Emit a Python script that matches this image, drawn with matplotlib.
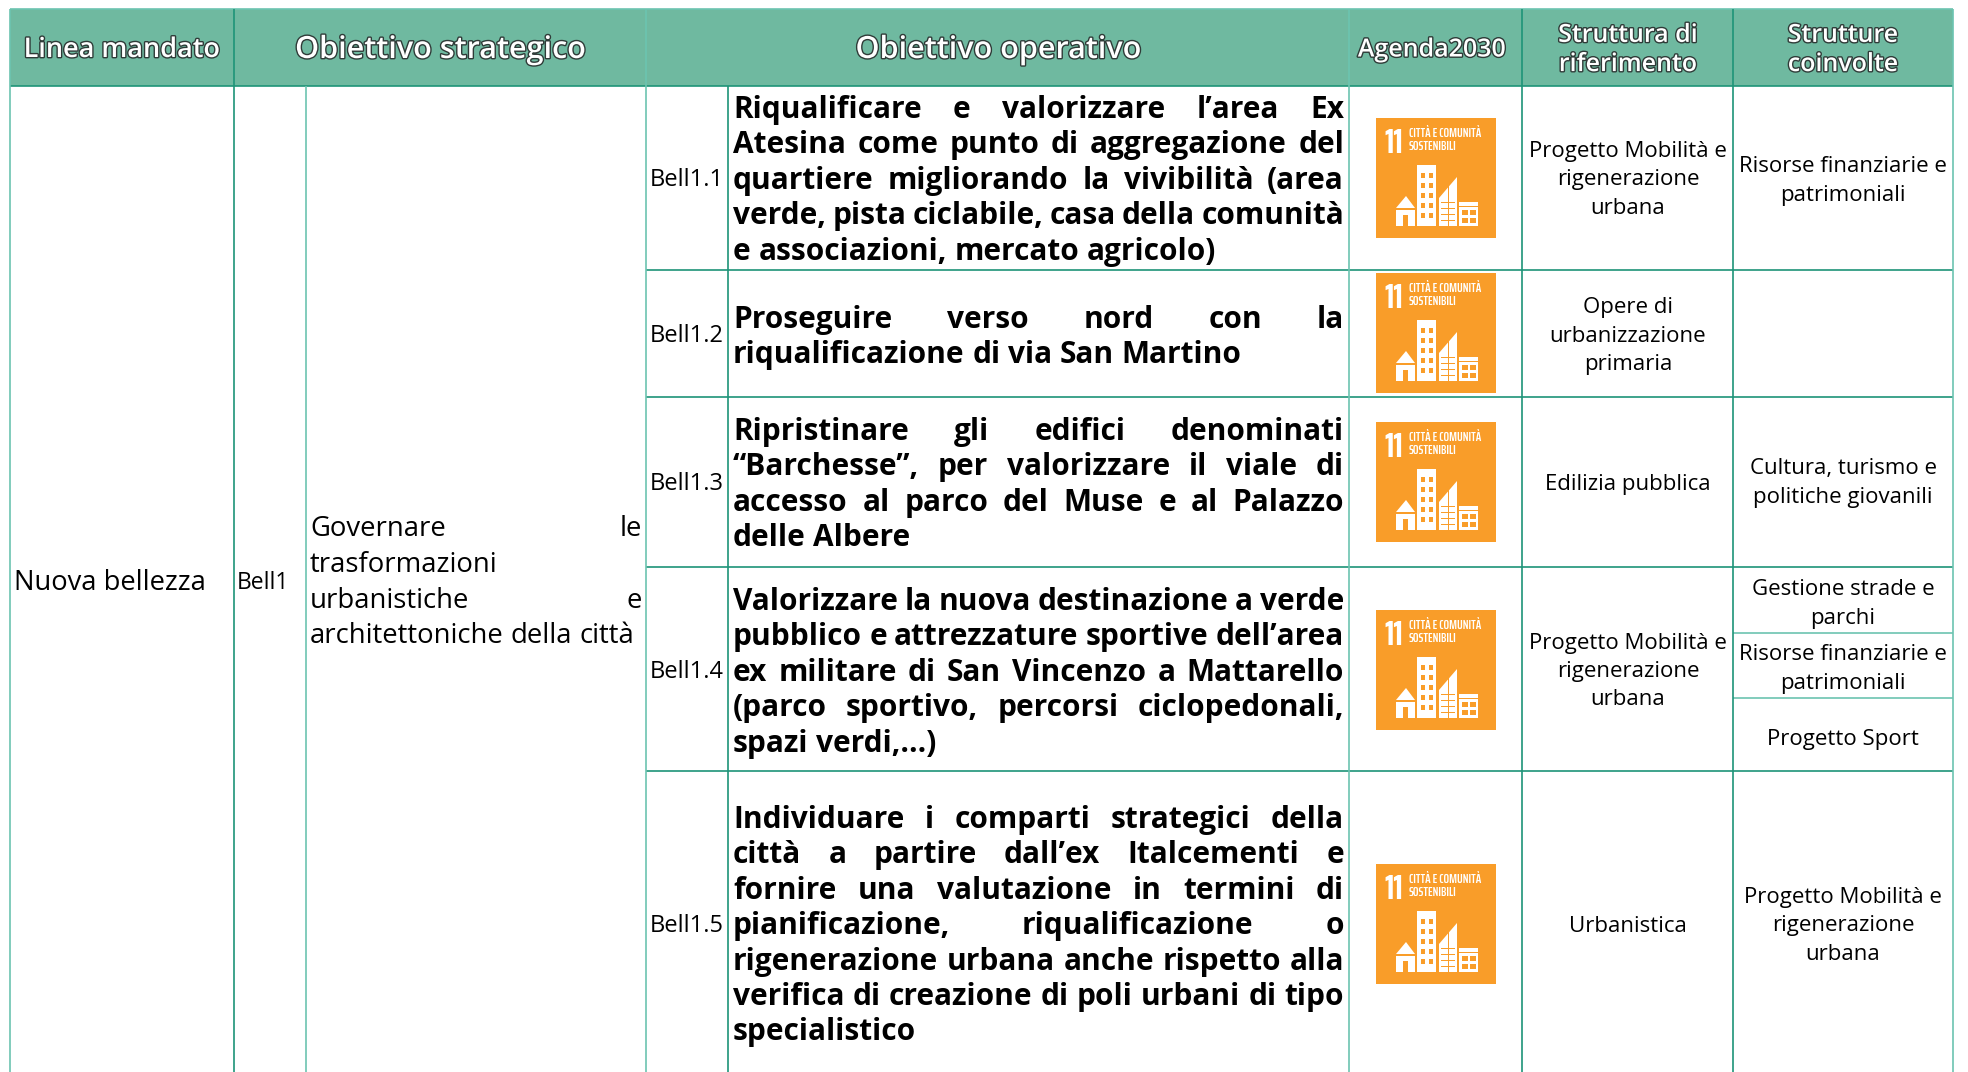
import matplotlib
matplotlib.use("Agg")
import matplotlib.pyplot as plt
import matplotlib.patheffects as pe
from matplotlib.patches import Rectangle, Polygon

# ---------------- data ---------------- #

header_labels = ["Linea mandato", "Obiettivo strategico", "Obiettivo operativo", "Agenda2030",
                 "Struttura di\nriferimento", "Strutture\ncoinvolte"]
linea = "Nuova bellezza"
codice_strategico = "Bell1"
strategico_lines = ["Governare le", "trasformazioni", "urbanistiche e", "architettoniche della città"]
codici_operativi = ["Bell1.1", "Bell1.2", "Bell1.3", "Bell1.4", "Bell1.5"]
operativi_lines = [
    ["Riqualificare e valorizzare l’area Ex",
     "Atesina come punto di aggregazione del",
     "quartiere migliorando la vivibilità (area",
     "verde, pista ciclabile, casa della comunità",
     "e associazioni, mercato agricolo)"],
    ["Proseguire verso nord con la",
     "riqualificazione di via San Martino"],
    ["Ripristinare gli edifici denominati",
     "“Barchesse”, per valorizzare il viale di",
     "accesso al parco del Muse e al Palazzo",
     "delle Albere"],
    ["Valorizzare la nuova destinazione a verde",
     "pubblico e attrezzature sportive dell’area",
     "ex militare di San Vincenzo a Mattarello",
     "(parco sportivo, percorsi ciclopedonali,",
     "spazi verdi,...)"],
    ["Individuare i comparti strategici della",
     "città a partire dall’ex Italcementi e",
     "fornire una valutazione in termini di",
     "pianificazione, riqualificazione o",
     "rigenerazione urbana anche rispetto alla",
     "verifica di creazione di poli urbani di tipo",
     "specialistico"],
]
riferimento = ["Progetto Mobilità e\nrigenerazione\nurbana", "Opere di\nurbanizzazione\nprimaria",
               "Edilizia pubblica", "Progetto Mobilità e\nrigenerazione\nurbana", "Urbanistica"]
coinvolte = ["Risorse finanziarie e\npatrimoniali", "Cultura, turismo e\npolitiche giovanili",
             "Gestione strade e\nparchi", "Risorse finanziarie e\npatrimoniali", "Progetto Sport",
             "Progetto Mobilità e\nrigenerazione\nurbana"]

# ---------------- layout (pixels) ---------------- #

W, H = 1968, 1072
col_x = [10, 233.5, 306, 646, 728, 1349, 1522, 1733, 1953]
row_y = [9, 85.5, 270, 397, 567, 771]
sub_y = [633, 698]
header_x = [122, 440, 998, 1432, 1628, 1843]
operativi_first_y = [108, 318, 430, 600, 818]
coinvolte_y = [179, 481, 602, 667, 737, 924]
icon_y = [118, 273, 422, 610, 864]
icon_x = 1376
bold_step = 35.4
strat_y = [528, 564, 600, 635]

HEAD_BG = "#6FB9A0"
DARK = "#1E9478"
LIGHT = "#6CC4B0"
ORANGE = "#F99D29"
FONT = "Open Sans"
NARROW = "Saira ExtraCondensed"

plt.rcParams["font.family"] = [FONT, "DejaVu Sans"]

fig = plt.figure(figsize=(W / 100, H / 100), dpi=100)
ax = fig.add_axes([0, 0, 1, 1])
ax.set_xlim(0, W)
ax.set_ylim(H, 0)
ax.axis("off")
renderer = fig.canvas.get_renderer()


def line(x0, y0, x1, y1, color=DARK):
    ax.plot([x0, x1], [y0, y1], color=color, lw=1.2, solid_capstyle="butt", zorder=3)


def justified(text, x0, x1, y, fontsize, weight="normal", justify=True):
    # place the words one by one so the line fills the cell like in the document
    words = text.split(" ")
    items = [ax.text(0, y, w, fontsize=fontsize, fontweight=weight, va="baseline", ha="left", color="black")
             for w in words]
    widths = [t.get_window_extent(renderer).width for t in items]
    space = fontsize * 0.36
    if justify and len(words) > 1:
        space = (x1 - x0 - sum(widths)) / (len(words) - 1)
    x = x0
    for t, w in zip(items, widths):
        t.set_x(x)
        x += w + space


def draw_icon(x, y):
    ax.add_patch(Rectangle((x, y), 120, 120, fc=ORANGE, ec="none", zorder=2))
    ax.text(x + 8, y + 35, "11", color="white", fontsize=25, fontweight="bold", family=NARROW,
            va="baseline", ha="left", zorder=4)
    ax.text(x + 33, y + 19, "CITTÀ E COMUNITÀ", color="white", fontsize=9.5, fontweight="semibold", family=NARROW,
            va="baseline", ha="left", zorder=4)
    ax.text(x + 33, y + 32, "SOSTENIBILI", color="white", fontsize=9.5, fontweight="semibold", family=NARROW,
            va="baseline", ha="left", zorder=4)
    white = dict(fc="white", ec="none", zorder=3)
    orange = dict(fc=ORANGE, ec="none", zorder=4)
    # tall building
    ax.add_patch(Rectangle((x + 41, y + 47), 19, 61, **white))
    for i in range(5):
        for dx in (44.5, 52.5):
            ax.add_patch(Rectangle((x + dx, y + 55 + i * 10), 4, 4.5, **orange))
    # slanted building
    ax.add_patch(Polygon([(x + 63, y + 108), (x + 63, y + 80), (x + 81, y + 59), (x + 81, y + 108)], **white))
    for i in range(4):
        ax.add_patch(Rectangle((x + 65, y + 84 + i * 6), 14, 1.2, **orange))
    ax.add_patch(Rectangle((x + 71.5, y + 68), 1.2, 40, **orange))
    # low building
    ax.add_patch(Rectangle((x + 83, y + 84), 19, 24, **white))
    ax.add_patch(Rectangle((x + 83, y + 88), 19, 1.4, **orange))
    for dy in (92, 100):
        for dx in (85.5, 93.5):
            ax.add_patch(Rectangle((x + dx, y + dy), 6, 5, **orange))
    # house
    ax.add_patch(Polygon([(x + 20, y + 90), (x + 30, y + 78), (x + 39, y + 90)], **white))
    ax.add_patch(Rectangle((x + 20, y + 92), 19, 16, **white))
    ax.add_patch(Rectangle((x + 27, y + 97), 5, 11, **orange))


# ---------------- header ---------------- #

ax.add_patch(Rectangle((col_x[0], row_y[0]), col_x[-1] - col_x[0], row_y[1] - row_y[0], fc=HEAD_BG, ec="none", zorder=1))
stroke = [pe.withStroke(linewidth=2.0, foreground="#2F3B38")]
header_size = [19.5, 22, 22, 18, 18, 18]
for label, x, fs in zip(header_labels, header_x, header_size):
    ax.text(x, 50, label, color="white", fontsize=fs, fontweight="semibold", ha="center", va="center",
            linespacing=1.22, path_effects=stroke, zorder=4)

# ---------------- grid ---------------- #

line(col_x[0], row_y[0], col_x[-1], row_y[0], LIGHT)
line(col_x[0], row_y[1], col_x[-1], row_y[1])
for y in row_y[2:]:
    line(col_x[3], y, col_x[-1], y)
for y in sub_y:
    line(col_x[7], y, col_x[-1], y, LIGHT)
for i, x in enumerate(col_x):
    top = row_y[1] if i in (2, 4) else row_y[0]
    color = LIGHT if i in (0, 2, 3, 5, 8) else DARK
    line(x, top, x, H, color)

# ---------------- cells ---------------- #

ax.text(14, 583, linea, fontsize=19.7, va="center", ha="left")
ax.text(237, 583, codice_strategico, fontsize=16.5, va="center", ha="left")
for i, (txt, y) in enumerate(zip(strategico_lines, strat_y)):
    justified(txt, 310, 642, y + 8, 19.8, justify=i in (0, 2))

for r, lines in enumerate(operativi_lines):
    mid = (row_y[r + 1] + row_y[r + 2]) / 2 + 2.5 if r < 4 else 926
    ax.text(650, mid, codici_operativi[r], fontsize=17, va="center", ha="left")
    for j, txt in enumerate(lines):
        y = operativi_first_y[r] + j * bold_step + 10
        justified(txt, 733, 1344, y, 21.5, weight="bold", justify=j < len(lines) - 1)
    draw_icon(icon_x, icon_y[r])
    cy = mid if r != 0 else 180
    ax.text(header_x[4], cy, riferimento[r], fontsize=16, ha="center", va="center", linespacing=1.46)

for txt, y in zip(coinvolte, coinvolte_y):
    ax.text(header_x[5], y + 2, txt, fontsize=16, ha="center", va="center", linespacing=1.46)

fig.savefig("out.png", dpi=100)
